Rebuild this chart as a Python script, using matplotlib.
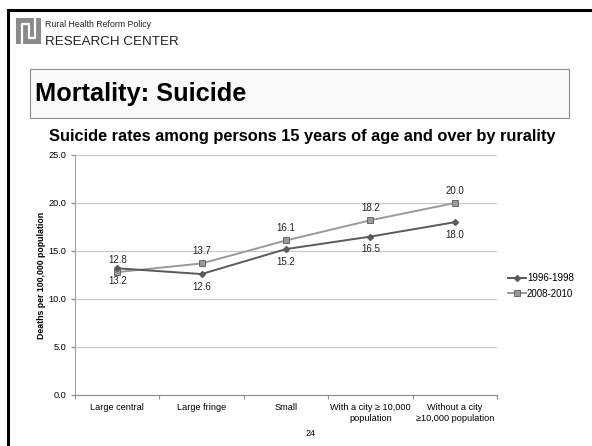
import matplotlib.pyplot as plt
import matplotlib.patches as mpatches
from matplotlib.lines import Line2D

# Rurality categories and suicide rates (deaths per 100,000 population)
categories = ["Large central", "Large fringe", "Small",
              "With a city \u2265 10,000\npopulation", "Without a city\n\u226510,000 population"]
rate_1996 = [13.2, 12.6, 15.2, 16.5, 18.0]
rate_2008 = [12.8, 13.7, 16.1, 18.2, 20.0]
series_names = ["1996-1998", "2008-2010"]
yticks = [0, 5, 10, 15, 20, 25]

plt.rcParams['font.family'] = ['Liberation Sans', 'DejaVu Sans']

W, H = 592, 446
fig = plt.figure(figsize=(W / 100, H / 100), dpi=100)

def fx(px):
    return px / W

def fy(py):
    return 1 - py / H

# slide frame (top and left rules)
fig.add_artist(Line2D([fx(8), 1], [fy(10), fy(10)], color="black", lw=2.2))
fig.add_artist(Line2D([fx(8), fx(8)], [fy(10), 0], color="black", lw=2.2))

# logo block
fig.add_artist(mpatches.Rectangle((fx(16), fy(44)), fx(25), 26 / H, color="#8a8a8a", lw=0))
fig.add_artist(Line2D([fx(22), fx(22), fx(29), fx(29), fx(35), fx(35)],
                      [fy(44), fy(24), fy(24), fy(38), fy(38), fy(18)],
                      color="white", lw=1.6))
fig.text(fx(45), fy(27), "Rural Health Reform Policy", fontsize=6.3,
         color="#222222", va="baseline")
fig.text(fx(45), fy(45), "RESEARCH CENTER", fontsize=9.6,
         color="#222222", va="baseline")

# title box
fig.add_artist(mpatches.Rectangle((fx(30), fy(118)), fx(539), 49 / H,
                                  facecolor="#f9f9f9", edgecolor="#8c8c8c", lw=0.8))
fig.text(fx(35), fy(93.5), "Mortality: Suicide", fontsize=18.3, weight="bold", va="center")

fig.text(fx(302), fy(137), "Suicide rates among persons 15 years of age and over by rurality",
         fontsize=11.8, weight="bold", ha="center", va="center")

ax = fig.add_axes([fx(75), fy(395), fx(422), 240 / H])
x = list(range(len(categories)))

ax.plot(x, rate_1996, color="#5a5a5a", lw=1.4, marker="D", ms=3,
        markerfacecolor="#5a5a5a", markeredgecolor="#5a5a5a", label=series_names[0], zorder=3)
ax.plot(x, rate_2008, color="#9a9a9a", lw=1.4, marker="s", ms=5,
        markerfacecolor="#9a9a9a", markeredgecolor="#5a5a5a", markeredgewidth=0.6,
        label=series_names[1], zorder=2)

for xi, v in zip(x, rate_1996):
    ax.annotate(f"{v:.1f}", (xi, v), xytext=(0, -9), textcoords="offset points",
                ha="center", va="center", fontsize=7, color="#222222")
for xi, v in zip(x, rate_2008):
    ax.annotate(f"{v:.1f}", (xi, v), xytext=(0, 9), textcoords="offset points",
                ha="center", va="center", fontsize=7, color="#222222")

ax.set_xlim(-0.5, len(categories) - 0.5)
ax.set_ylim(0, 25)
ax.set_yticks(yticks)
ax.set_yticklabels([f"{t:.1f}" for t in yticks], fontsize=6.6)
ax.set_xticks(x)
ax.set_xticklabels(categories, fontsize=6.6)
ax.set_xticks([i - 0.5 for i in range(len(categories) + 1)], minor=True)
ax.tick_params(axis="x", which="major", length=0, pad=6)
ax.tick_params(axis="x", which="minor", length=3, color="#8c8c8c", width=0.8)
ax.tick_params(axis="y", length=3, color="#8c8c8c", width=0.8, pad=3)
ax.grid(axis="y", color="#c8c8c8", lw=0.8)
ax.set_axisbelow(True)
for side in ["top", "right"]:
    ax.spines[side].set_visible(False)
ax.spines["left"].set_color("#a0a0a0")
ax.spines["bottom"].set_color("#8c8c8c")
ax.spines["left"].set_linewidth(0.8)
ax.spines["bottom"].set_linewidth(0.8)

ax.set_ylabel("Deaths per 100,000 population", fontsize=6.3, weight="bold", labelpad=2)

fig.legend(loc="center left", bbox_to_anchor=(fx(508), fy(286)), frameon=False,
           fontsize=7, handlelength=1.9, handletextpad=0.05, labelspacing=0.55,
           borderpad=0, borderaxespad=0)

fig.text(fx(311), fy(433), "24", fontsize=6.5, ha="center", va="center")

fig.savefig("out.png", dpi=100)
